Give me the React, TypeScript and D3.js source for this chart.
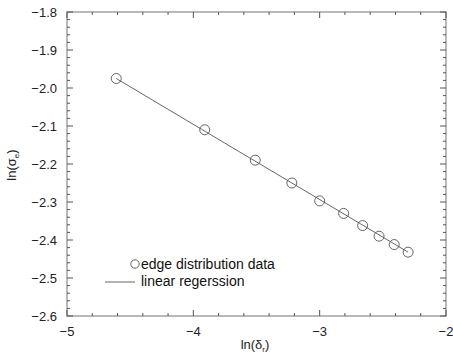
import React from "react";
import * as d3 from "d3";

const xData = [-4.61, -3.91, -3.51, -3.22, -3.0, -2.81, -2.66, -2.53, -2.41, -2.3];
const yData = [-1.975, -2.11, -2.19, -2.25, -2.297, -2.33, -2.362, -2.39, -2.412, -2.432];
const regX = [-4.61, -2.3];
const regY = [-1.975, -2.432];
const xMajor = [-5, -4, -3, -2];
const yMajor = [-1.8, -1.9, -2.0, -2.1, -2.2, -2.3, -2.4, -2.5, -2.6];
const legendLabels = ["edge distribution data", "linear regerssion"];

const W = 453, H = 353;
const L = 67, R = 446, T = 12, B = 316;
const FONT = "'Liberation Sans', Arial, Helvetica, sans-serif";
const fmt = (v: number, d: number) => (v < 0 ? "\u2212" : "") + Math.abs(v).toFixed(d);

export default function App() {
  const x = d3.scaleLinear().domain([-5, -2]).range([L, R]);
  const y = d3.scaleLinear().domain([-2.6, -1.8]).range([B, T]);
  const xMinor = d3.range(0, 16).map((i) => -5 + i * 0.2).filter((v) => Math.abs(v - Math.round(v)) > 1e-6);
  const yMinor = d3.range(0, 41).map((i) => -2.6 + i * 0.02).filter((v) => Math.abs(v * 10 - Math.round(v * 10)) > 1e-6);
  const line = d3.line<number>().x((d, i) => x(regX[i])).y((d, i) => y(regY[i]));
  const axisCol = "#8a8a8a";
  const tickCol = "#555";
  return (
    <svg width={W} height={H} style={{ position: "absolute", left: 0, top: 0, background: "#fff" }} fontFamily={FONT}>
      <rect x={L} y={T} width={R - L} height={B - T} fill="none" stroke={axisCol} strokeWidth={1.2} />
      {xMajor.map((v) => (
        <g key={"xM" + v}>
          <line x1={x(v)} x2={x(v)} y1={B} y2={B - 6} stroke={tickCol} />
          <line x1={x(v)} x2={x(v)} y1={T} y2={T + 6} stroke={tickCol} />
          <text x={x(v)} y={336} textAnchor="middle" fontSize={13} fill="#222">{fmt(v, 0)}</text>
        </g>
      ))}
      {xMinor.map((v) => (
        <g key={"xm" + v.toFixed(2)}>
          <line x1={x(v)} x2={x(v)} y1={B} y2={B - 3} stroke={tickCol} />
          <line x1={x(v)} x2={x(v)} y1={T} y2={T + 3} stroke={tickCol} />
        </g>
      ))}
      {yMajor.map((v) => (
        <g key={"yM" + v}>
          <line x1={L} x2={L + 6} y1={y(v)} y2={y(v)} stroke={tickCol} />
          <line x1={R} x2={R - 6} y1={y(v)} y2={y(v)} stroke={tickCol} />
          <text x={57} y={y(v) + 4.5} textAnchor="end" fontSize={13} fill="#222">{fmt(v, 1)}</text>
        </g>
      ))}
      {yMinor.map((v) => (
        <g key={"ym" + v.toFixed(3)}>
          <line x1={L} x2={L + 3} y1={y(v)} y2={y(v)} stroke={tickCol} />
          <line x1={R} x2={R - 3} y1={y(v)} y2={y(v)} stroke={tickCol} />
        </g>
      ))}
      <path d={line(regX) || ""} fill="none" stroke="#555" strokeWidth={0.9} />
      {xData.map((v, i) => (
        <circle key={"p" + i} cx={x(v)} cy={y(yData[i])} r={5} fill="none" stroke="#555" strokeWidth={0.9} />
      ))}
      <circle cx={135} cy={264} r={4.2} fill="none" stroke="#555" strokeWidth={0.9} />
      <text x={141} y={268.5} fontSize={14} fill="#111">{legendLabels[0]}</text>
      <line x1={105} x2={135} y1={282} y2={282} stroke="#555" strokeWidth={0.9} />
      <text x={141} y={286} fontSize={14} fill="#111">{legendLabels[1]}</text>
      <text x={255} y={349} textAnchor="middle" fontSize={13} fill="#222">
        ln(δ<tspan fontSize={8} dy={3}>r</tspan><tspan dy={-3}>)</tspan>
      </text>
      <text transform={`translate(16,165) rotate(-90)`} textAnchor="middle" fontSize={13} fill="#222">
        ln(σ<tspan fontSize={8} dy={3}>e</tspan><tspan dy={-3}>)</tspan>
      </text>
    </svg>
  );
}
